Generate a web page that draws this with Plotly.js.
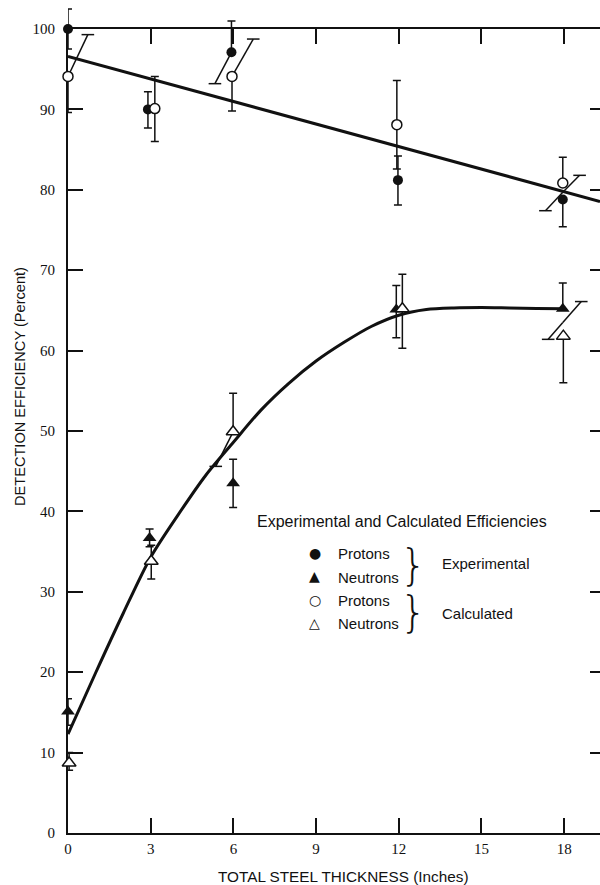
<!DOCTYPE html>
<html><head><meta charset="utf-8">
<script src="https://cdn.plot.ly/plotly-3.0.1.min.js"></script>
<style>html,body{margin:0;padding:0;background:#fff}#chart{width:600px;height:885px}</style>
</head><body><div id="chart"></div>
<script>
// ---- data ----
// Experimental protons (filled circles)
const expProtonX = [0, 2.9, 5.93, 11.97, 17.95];
const expProtonY = [100, 90.0, 97.1, 81.2, 78.8];
const expProtonErrPlus = [2.5, 2.2, 3.9, 3.0, 0];
const expProtonErrMinus = [2.5, 2.3, 0, 3.1, 3.4];
// Calculated protons (open circles)
const calcProtonX = [0, 3.15, 5.95, 11.93, 17.95];
const calcProtonY = [94.1, 90.1, 94.1, 88.1, 80.85];
const calcProtonErrPlus = [0, 4.0, 0, 5.5, 3.2];
const calcProtonErrMinus = [4.5, 4.1, 4.3, 5.5, 0];
// Experimental neutrons (filled triangles)
const expNeutronX = [0, 2.96, 5.99, 11.91, 17.95];
const expNeutronY = [15.1, 36.7, 43.5, 65.1, 65.2];
const expNeutronErrPlus = [1.6, 1.1, 3.0, 3.0, 3.2];
const expNeutronErrMinus = [1.7, 1.1, 3.0, 3.5, 0];
// Calculated neutrons (open triangles)
const calcNeutronX = [0.04, 3.02, 5.99, 12.13, 17.97];
const calcNeutronY = [8.7, 33.8, 49.9, 65.2, 61.8];
const calcNeutronErrPlus = [1.3, 2.0, 4.8, 4.3, 0];
const calcNeutronErrMinus = [0.9, 2.2, 0, 4.9, 5.8];
// Offset (slanted) error bars: start point -> capped end point
const slantX0 = [0, 5.93, 5.95, 17.95, 17.95, 5.99, 17.95, 17.95];
const slantY0 = [94.1, 97.1, 94.1, 79.7, 79.7, 49.9, 63.5, 63.5];
const slantX1 = [0.72, 5.33, 6.72, 18.56, 17.32, 5.36, 18.62, 17.42];
const slantY1 = [99.3, 93.2, 98.75, 81.8, 77.4, 45.6, 66.1, 61.4];
// Fitted proton line
const protonFitX = [0, 19.3];
const protonFitY = [96.6, 78.55];
// Neutron curve
const neutronCurveX = [0, 1, 2, 3, 4, 5, 6, 7, 8, 9, 10, 11, 12, 13, 14, 15, 16, 17, 18];
const neutronCurveY = [12.3, 19.9, 27.3, 34.3, 39.6, 44.5, 48.6, 52.6, 55.9, 58.7, 61.0, 63.0, 64.4, 65.1, 65.3, 65.35, 65.3, 65.25, 65.2];
// Tick values
const xTicks = [0, 3, 6, 9, 12, 15, 18];
const yTicks = [0, 10, 20, 30, 40, 50, 60, 70, 80, 90, 100];
const yRightTicks = [10, 20, 30, 40, 50, 60, 70, 80, 90];

// ---- build ----
const K = '#111';
const ebar = (p, m) => ({type: 'data', symmetric: false, array: p, arrayminus: m,
  color: K, thickness: 1.5, width: 4});

const slantLineX = [], slantLineY = [];
slantX0.forEach((x, i) => { slantLineX.push(x, slantX1[i], null); slantLineY.push(slantY0[i], slantY1[i], null); });

const D = {yaxis: 'y3', hoverinfo: 'skip', cliponaxis: false};
const traces = [
  // invisible carriers for the frame axes (left and right)
  {x: protonFitX, y: protonFitY, yaxis: 'y', mode: 'none', hoverinfo: 'skip'},
  {x: protonFitX, y: protonFitY, yaxis: 'y2', mode: 'none', hoverinfo: 'skip'},
  // data on the taller y3 scale so nothing above 100 is clipped
  Object.assign({x: protonFitX, y: protonFitY, mode: 'lines', line: {color: K, width: 3}}, D, {cliponaxis: true}),
  Object.assign({x: neutronCurveX, y: neutronCurveY, mode: 'lines', line: {color: K, width: 3, shape: 'spline', smoothing: 0.8}}, D, {cliponaxis: true}),
  Object.assign({x: slantLineX, y: slantLineY, mode: 'lines', line: {color: K, width: 1.5}}, D),
  Object.assign({x: slantX1, y: slantY1, mode: 'markers', marker: {symbol: 'line-ew', size: 9, line: {color: K, width: 1.5}}}, D),
  Object.assign({x: expProtonX, y: expProtonY, mode: 'markers', name: 'Protons (exp)',
   marker: {symbol: 'circle', size: 10, color: K}, error_y: ebar(expProtonErrPlus, expProtonErrMinus)}, D),
  Object.assign({x: calcProtonX, y: calcProtonY, mode: 'markers', name: 'Protons (calc)',
   marker: {symbol: 'circle', size: 10, color: '#fff', line: {color: K, width: 1.5}}, error_y: ebar(calcProtonErrPlus, calcProtonErrMinus)}, D),
  Object.assign({x: expNeutronX, y: expNeutronY, mode: 'markers', name: 'Neutrons (exp)',
   marker: {symbol: 'triangle-up', size: 12, color: K}, error_y: ebar(expNeutronErrPlus, expNeutronErrMinus)}, D),
  Object.assign({x: calcNeutronX, y: calcNeutronY, mode: 'markers', name: 'Neutrons (calc)',
   marker: {symbol: 'triangle-up', size: 12, color: '#fff', line: {color: K, width: 1.5}}, error_y: ebar(calcNeutronErrPlus, calcNeutronErrMinus)}, D)
];

// plot area: y = 0 at pixel 833, 8.04 px per percent; area top at pixel 1
const L = 68, T = 1, H = 832, W = 532;
const yTop = H / 8.04;
const frameTop = 100 / yTop;
const px = v => (v - L) / W;
const py = v => (T + H - v) / H;
const sans = 'Liberation Sans, Arial, sans-serif';
const ann = (x, y, text, size, anchor, extra) => Object.assign({xref: 'paper', yref: 'paper', x: px(x), y: py(y),
  text: text, showarrow: false, xanchor: anchor || 'left', yanchor: 'middle',
  font: {family: sans, size: size, color: K}}, extra || {});

const glyph = {family: 'DejaVu Sans', size: 14, color: K};
const annotations = [
  ann(343, 876, 'TOTAL STEEL THICKNESS (Inches)', 15.3, 'center'),
  ann(20, 387, 'DETECTION EFFICIENCY (Percent)', 14.6, 'center', {textangle: -90}),
  ann(401.5, 521, 'Experimental and Calculated Efficiencies', 16, 'center'),
  ann(315, 553, '●', 14, 'center', {font: glyph}),
  ann(314, 576, '▲', 14, 'center', {font: glyph}),
  ann(315, 600, '○', 14, 'center', {font: glyph}),
  ann(314, 623, '△', 14, 'center', {font: glyph}),
  ann(336, 553, 'Protons', 15),
  ann(336, 577, 'Neutrons', 15),
  ann(336, 600, 'Protons', 15),
  ann(336, 623, 'Neutrons', 15),
  ann(413, 565, '}', 42, 'center', {font: {family: 'DejaVu Sans', size: 42, color: K, weight: 300}}),
  ann(413, 612, '}', 42, 'center', {font: {family: 'DejaVu Sans', size: 42, color: K, weight: 300}}),
  ann(440, 563, 'Experimental', 15),
  ann(440, 613, 'Calculated', 15)
];

const tickFont = {family: 'Liberation Serif, Times New Roman, serif', size: 15, color: K};
const layout = {
  width: 600, height: 885,
  margin: {l: L, r: 0, t: T, b: 885 - T - H},
  paper_bgcolor: '#fff', plot_bgcolor: 'rgba(0,0,0,0)',
  showlegend: false,
  xaxis: {anchor: 'y', range: [0, 19.3], tickvals: xTicks, ticktext: xTicks.map(String), ticks: 'inside', ticklen: 15, tickwidth: 2,
    tickcolor: K, showline: true, linecolor: K, linewidth: 2, mirror: 'ticks', showgrid: false, zeroline: false,
    tickfont: tickFont, ticklabelstandoff: 1},
  yaxis: {anchor: 'x', domain: [0, frameTop], range: [0, 100], tickvals: yTicks, ticktext: yTicks.map(String), ticks: 'inside', ticklen: 15, tickwidth: 2,
    tickcolor: K, showline: true, linecolor: K, linewidth: 2, showgrid: false, zeroline: false,
    tickfont: tickFont, ticklabelstandoff: 8},
  yaxis2: {overlaying: 'y', side: 'right', anchor: 'x', range: [0, 100], tickvals: yRightTicks, ticks: 'inside', ticklen: 10, tickwidth: 2,
    tickcolor: K, showline: false, showticklabels: false, showgrid: false, zeroline: false},
  yaxis3: {anchor: 'x', range: [0, yTop], domain: [0, 1], visible: false, showgrid: false, zeroline: false},
  annotations: annotations
};

Plotly.newPlot('chart', traces, layout, {staticPlot: true});
</script>
</body></html>
